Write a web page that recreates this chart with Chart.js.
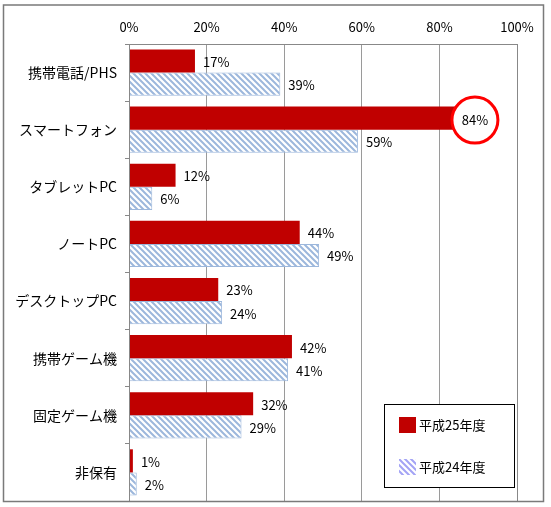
<!DOCTYPE html>
<html>
<head>
<meta charset="utf-8">
<script src="https://cdn.jsdelivr.net/npm/chart.js@4"></script>
<style>
  html, body { margin: 0; padding: 0; background: #fff; }
  #wrap { width: 551px; height: 507px; }
</style>
</head>
<body>
<div id="wrap"><canvas id="chart" width="551" height="507"></canvas></div>
<script>
// data
const categories = ['携帯電話/PHS', 'スマートフォン', 'タブレットPC', 'ノートPC', 'デスクトップPC', '携帯ゲーム機', '固定ゲーム機', '非保有'];
const h25 = [17, 84, 12, 44, 23, 42, 32, 1];
const h24 = [39, 59, 6, 49, 24, 41, 29, 2];
const xTicks = [0, 20, 40, 60, 80, 100];
const seriesNames = ['平成25年度', '平成24年度'];
const highlightCategory = 'スマートフォン';

const numFont = "'Liberation Sans Narrow', 'Noto Sans CJK JP', sans-serif";
const jpFont = "'Noto Sans CJK JP', sans-serif";

// hatch pattern for the older series
function makeHatch(color, bg) {
    const c = document.createElement('canvas');
    c.width = 6; c.height = 6;
    const g = c.getContext('2d');
    g.fillStyle = bg;
    g.fillRect(0, 0, 6, 6);
    g.strokeStyle = color;
    g.lineWidth = 2;
    g.beginPath();
    g.moveTo(-1, -1); g.lineTo(7, 7);
    g.moveTo(-1, 5); g.lineTo(1, 7);
    g.moveTo(5, -1); g.lineTo(7, 1);
    g.stroke();
    return g.createPattern(c, 'repeat');
}

const ctx = document.getElementById('chart').getContext('2d');
const hatch = makeHatch('#9cb7dc', '#ffffff');
const legendHatch = makeHatch('#a3a3f5', '#ffffff');

// outer frame + white background
const framePlugin = {
    id: 'frame',
    beforeDraw(chart) {
        const c = chart.ctx;
        c.save();
        c.fillStyle = '#fff';
        c.fillRect(0, 0, chart.width, chart.height);
        c.restore();
    },
    afterDraw(chart) {
        const a = chart.chartArea;
        const c = chart.ctx;
        c.save();
        // plot area border
        c.strokeStyle = '#888';
        c.lineWidth = 1;
        c.strokeRect(a.left + 0.5, a.top + 0.5, a.right - a.left, a.bottom - a.top);
        // outer frame
        c.strokeStyle = '#7a7a7a';
        c.lineWidth = 1.5;
        c.strokeRect(3.5, 5, 540, 496.5);
        c.restore();
    }
};

// value labels next to the bars, with the circled one
const labelPlugin = {
    id: 'valueLabels',
    afterDatasetsDraw(chart) {
        const c = chart.ctx;
        c.save();
        c.font = '13px ' + numFont;
        c.textBaseline = 'middle';
        chart.data.datasets.forEach((ds, di) => {
            const meta = chart.getDatasetMeta(di);
            meta.data.forEach((el, i) => {
                const txt = ds.data[i] + '%';
                if (di === 0 && categories[i] === highlightCategory) {
                    const cx = el.x + 20, cy = el.y + 2;
                    c.beginPath();
                    c.arc(cx, cy, 23, 0, Math.PI * 2);
                    c.fillStyle = '#fff';
                    c.fill();
                    c.lineWidth = 3;
                    c.strokeStyle = '#ff0000';
                    c.stroke();
                    c.fillStyle = '#000';
                    c.textAlign = 'center';
                    c.fillText(txt, cx, cy);
                } else {
                    c.fillStyle = '#000';
                    c.textAlign = 'left';
                    c.fillText(txt, el.x + 8, el.y + 1);
                }
            });
        });
        c.restore();
    }
};

// legend box in the lower right of the plot
const legendPlugin = {
    id: 'boxLegend',
    afterDraw(chart) {
        const a = chart.chartArea;
        const c = chart.ctx;
        const bx = a.right - 133, by = a.bottom - 97;
        c.save();
        c.fillStyle = '#fff';
        c.fillRect(bx, by, 130, 83);
        c.strokeStyle = '#000';
        c.lineWidth = 1;
        c.strokeRect(bx + 0.5, by + 0.5, 130, 83);
        const fills = [chart.data.datasets[0].backgroundColor, legendHatch];
        const rows = [by + 21, by + 63];
        c.font = '13px ' + jpFont;
        c.textBaseline = 'middle';
        c.textAlign = 'left';
        seriesNames.forEach((name, k) => {
            c.fillStyle = fills[k];
            c.fillRect(bx + 15, rows[k] - 8, 17, 16);
            c.fillStyle = '#000';
            c.fillText(name, bx + 35, rows[k]);
        });
        c.restore();
    }
};

new Chart(ctx, {
    type: 'bar',
    data: {
        labels: categories,
        datasets: [
            {
                label: seriesNames[0],
                data: h25,
                backgroundColor: '#c00000',
                borderColor: '#c00000',
                borderWidth: 0,
                barPercentage: 1.0,
                categoryPercentage: 0.81
            },
            {
                label: seriesNames[1],
                data: h24,
                backgroundColor: hatch,
                borderColor: '#9cb7dc',
                borderWidth: 1,
                barPercentage: 1.0,
                categoryPercentage: 0.81
            }
        ]
    },
    options: {
        indexAxis: 'y',
        responsive: false,
        animation: false,
        devicePixelRatio: 1,
        layout: { padding: { left: 0, top: 0, right: 34, bottom: 6 } },
        plugins: {
            legend: { display: false },
            tooltip: { enabled: false }
        },
        scales: {
            x: {
                position: 'top',
                min: 0,
                max: 100,
                afterFit(scale) {
                    scale.height = 44;
                    scale.paddingLeft = 0;
                    scale.paddingRight = 0;
                },
                afterBuildTicks(scale) { scale.ticks = xTicks.map(v => ({ value: v })); },
                grid: { color: '#9a9a9a', drawTicks: false, lineWidth: 1 },
                border: { display: false },
                ticks: {
                    padding: 9,
                    color: '#000',
                    font: { family: numFont, size: 13 },
                    callback: v => v + '%'
                }
            },
            y: {
                afterFit(scale) {
                    scale.width = 129;
                    scale.paddingTop = 0;
                    scale.paddingBottom = 0;
                },
                grid: { display: true, offset: true, drawOnChartArea: false, tickLength: 4, color: '#888' },
                border: { display: true, color: '#888' },
                ticks: {
                    padding: 8,
                    color: '#000',
                    font: { family: jpFont, size: 14 }
                }
            }
        }
    },
    plugins: [framePlugin, labelPlugin, legendPlugin]
});
</script>
</body>
</html>
